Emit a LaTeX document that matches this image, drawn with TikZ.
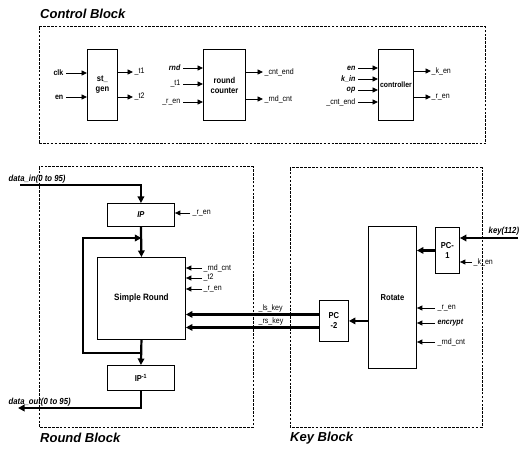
\documentclass[tikz,border=0pt]{standalone}
\usepackage{fontspec}
\setmainfont{Liberation Sans}[FakeStretch=0.88]
\newfontfamily\ttlfont{Liberation Sans}
\usetikzlibrary{arrows.meta}
\begin{document}
\begin{tikzpicture}[x=1pt,y=-1pt,
  blk/.style={draw, line width=0.9pt, inner sep=0pt, align=center, anchor=north west, font=\fontsize{8.6}{10}\selectfont\bfseries},
  lab/.style={inner sep=0.5pt, font=\fontsize{8}{9}\selectfont},
  blab/.style={inner sep=0.5pt, font=\fontsize{8}{9}\selectfont\bfseries},
  ilab/.style={inner sep=0.5pt, font=\fontsize{8}{9}\selectfont\bfseries\itshape},
  dlab/.style={inner sep=0.5pt, font=\fontsize{8.8}{10}\selectfont\bfseries\itshape},
  sig/.style={line width=0.9pt, -{Triangle[length=5.5pt,width=5pt]}},
  bus/.style={line width=2.2pt, line join=miter, -{Triangle[length=6.5pt,width=6.5pt]}},
  dbox/.style={draw, line width=1pt, dash pattern=on 2.6pt off 1.3pt},
  ttl/.style={anchor=west, inner sep=0pt, font=\ttlfont\fontsize{13}{14}\selectfont\bfseries\itshape}]

\useasboundingbox (0,0) rectangle (522,449);

% ---------------- Control Block ----------------
\node[ttl] (tc) at (40,14) {Control Block};
\draw[dbox] (39,27) rectangle (485,144);

\node[blk, minimum width=30pt, minimum height=71pt] (stg) at (87,49) {st\_\\gen};
\node[blab, anchor=east] (clk) at (64,73) {clk};
\node[blab, anchor=east] (en1) at (64,97) {en};
\draw[sig, shorten <=2pt] (clk.east) -- (clk.east -| stg.west);
\draw[sig, shorten <=2pt] (en1.east) -- (en1.east -| stg.west);
\node[lab, anchor=west] (st1) at (134,72) {\_t1};
\node[lab, anchor=west] (st2) at (134,97) {\_t2};
\draw[sig, shorten >=1pt] (stg.east |- st1) -- (st1.west);
\draw[sig, shorten >=1pt] (stg.east |- st2) -- (st2.west);

\node[blk, minimum width=42pt, minimum height=71pt] (rc) at (203,49) {round\\counter};
\node[ilab, anchor=east] (rnd) at (181,68) {rnd};
\node[lab, anchor=east] (rt1) at (181,84) {\_t1};
\node[lab, anchor=east] (rren) at (181,102) {\_r\_en};
\draw[sig, shorten <=2pt] (rnd.east) -- (rnd.east -| rc.west);
\draw[sig, shorten <=2pt] (rt1.east) -- (rt1.east -| rc.west);
\draw[sig, shorten <=2pt] (rren.east) -- (rren.east -| rc.west);
\node[lab, anchor=west] (cend) at (264,72) {\_cnt\_end};
\node[lab, anchor=west] (rcnt) at (264,99) {\_rnd\_cnt};
\draw[sig, shorten >=1pt] (rc.east |- cend) -- (cend.west);
\draw[sig, shorten >=1pt] (rc.east |- rcnt) -- (rcnt.west);

\node[blk, minimum width=35pt, minimum height=71pt, font=\fontsize{7.8}{9}\selectfont\bfseries] (ctl) at (378,49) {controller};
\node[ilab, anchor=east] (cen) at (356,68) {en};
\node[ilab, anchor=east] (kin) at (356,79) {k\_in};
\node[ilab, anchor=east] (op) at (356,90) {op};
\node[lab, anchor=east] (ccend) at (356,102) {\_cnt\_end};
\draw[sig, shorten <=2pt] (cen.east) -- (cen.east -| ctl.west);
\draw[sig, shorten <=2pt] (kin.east) -- (kin.east -| ctl.west);
\draw[sig, shorten <=2pt] (op.east) -- (op.east -| ctl.west);
\draw[sig, shorten <=2pt] (ccend.east) -- (ccend.east -| ctl.west);
\node[lab, anchor=west] (ken1) at (431,71) {\_k\_en};
\node[lab, anchor=west] (ren1) at (431,97) {\_r\_en};
\draw[sig] (ctl.east |- ken1) -- (ken1.west);
\draw[sig] (ctl.east |- ren1) -- (ren1.west);

% ---------------- Round Block ----------------
\node[ttl] (tr) at (40,438) {Round Block};
\draw[dbox] (39,167) rectangle (253,427);

\node[blk, minimum width=67pt, minimum height=23pt, font=\fontsize{8.6}{10}\selectfont\bfseries\itshape] (ip) at (107,203) {IP};
\node[blk, minimum width=88pt, minimum height=82pt, font=\fontsize{9.2}{10}\selectfont\bfseries] (sr) at (97,257) {Simple Round};
\node[blk, minimum width=67pt, minimum height=25pt] (ip1) at (107,365) {IP\textsuperscript{-1}};

\node[lab, anchor=west] (ipren) at (192,213) {\_r\_en};
\draw[sig, shorten <=2pt] (ipren.west) -- (ipren.west -| ip.east);

\node[lab, anchor=west] (srcnt) at (203,268) {\_rnd\_cnt};
\node[lab, anchor=west] (srt2) at (203,278) {\_t2};
\node[lab, anchor=west] (srren) at (203,289) {\_r\_en};
\draw[sig, shorten <=1pt] (srcnt.west) -- (srcnt.west -| sr.east);
\draw[sig, shorten <=1pt] (srt2.west) -- (srt2.west -| sr.east);
\draw[sig, shorten <=1pt] (srren.west) -- (srren.west -| sr.east);

\node[dlab, anchor=south west] (din) at (8,184) {data\_in(0 to 95)};
\coordinate (dinS) at (20,185);
\draw[bus] (dinS) -| (ip.north);
\draw[bus] (ip.south) -- (sr.north);
\draw[bus] (sr.south) -- (ip1.north);
\coordinate (lpB) at (83,353);
\coordinate (lpT) at (83,238);
\draw[bus] (sr.south |- lpB) -- (lpB) -- (lpT) -- (lpT -| sr.north);

\node[dlab, anchor=south west] (dout) at (8,407) {data\_out(0 to 95)};
\coordinate (doutE) at (18,408);
\draw[bus] (ip1.south) |- (doutE);

% ---------------- Key Block ----------------
\node[ttl] (tk) at (290,438) {Key Block};
\draw[dbox] (290,168) rectangle (482,427);

\node[blk, minimum width=48pt, minimum height=142pt] (rot) at (368,226) {Rotate};
\node[blk, minimum width=24pt, minimum height=46pt] (pc1) at (435,227) {PC-\\1};
\node[blk, minimum width=29pt, minimum height=41pt] (pc2) at (319,300) {PC\\-2};

\node[dlab, anchor=south west] (key) at (488,236) {key(112)};
\coordinate (keyS) at (518,238);
\draw[bus] (keyS) -- (keyS -| pc1.east);
\node[lab, anchor=west] (ken2) at (473,262) {\_k\_en};
\draw[sig, shorten <=1pt] (ken2.west) -- (ken2.west -| pc1.east);
\draw[bus] (pc1.west) -- (pc1.west -| rot.east);

\node[lab, anchor=west] (rotren) at (437,308) {\_r\_en};
\node[ilab, anchor=west] (enc) at (437,323) {encrypt};
\node[lab, anchor=west] (rotcnt) at (437,342) {\_rnd\_cnt};
\draw[sig, shorten <=2pt] (rotren.west) -- (rotren.west -| rot.east);
\draw[sig, shorten <=2pt] (enc.west) -- (enc.west -| rot.east);
\draw[sig, shorten <=2pt] (rotcnt.west) -- (rotcnt.west -| rot.east);

\draw[bus] (rot.west |- pc2.east) -- (pc2.east);

\coordinate (lsP) at ([yshift=6.5pt]pc2.west);
\coordinate (rsP) at ([yshift=-6.5pt]pc2.west);
\draw[bus] (lsP) -- (lsP -| sr.east);
\draw[bus] (rsP) -- (rsP -| sr.east);
\node[lab, anchor=south west] (lsk) at (258,313) {\_ls\_key};
\node[lab, anchor=south west] (rsk) at (258,326) {\_rs\_key};

\end{tikzpicture}
\end{document}
